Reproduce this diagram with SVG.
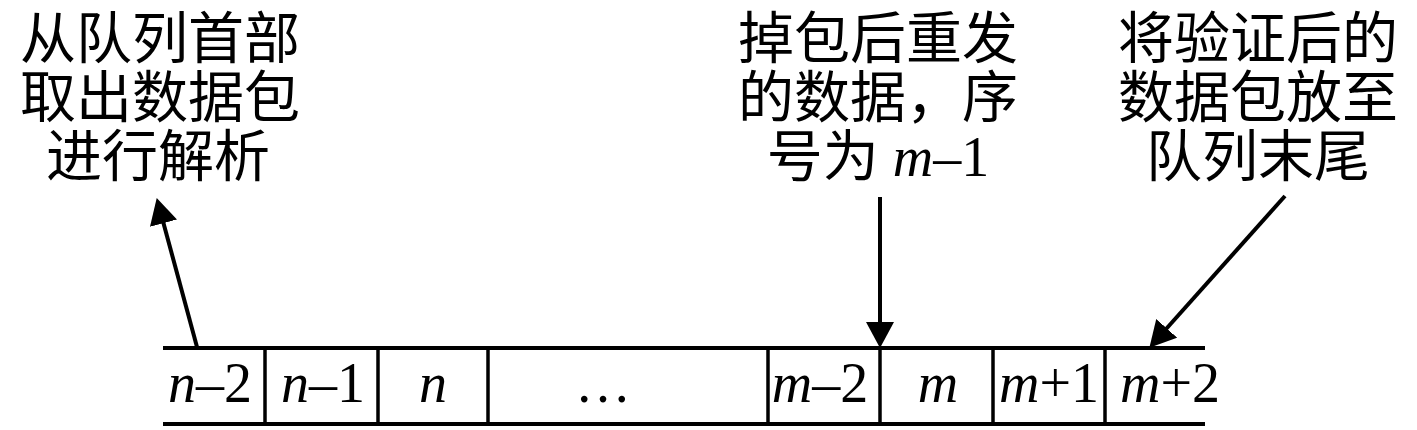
<svg xmlns="http://www.w3.org/2000/svg" width="1417" height="430" viewBox="0 0 1417 430">
<defs>
<style>
.cn{font-family:"Noto Sans CJK SC","Liberation Serif",serif;font-size:56px;fill:#000;text-anchor:middle}
.lat{font-family:"Liberation Serif","Times New Roman",serif;font-size:56px;fill:#000;text-anchor:middle}
.it{font-style:italic}
.ln{stroke:#000;stroke-width:4;fill:none;stroke-linecap:butt}
.dv{stroke:#000;stroke-width:3.5;fill:none}
.ar{stroke:#000;stroke-width:4;fill:none}
</style>
<marker id="ah" markerUnits="userSpaceOnUse" markerWidth="26" markerHeight="28" refX="15" refY="14" orient="auto" viewBox="0 0 26 28">
<path d="M0,0 L26,14 L0,28 z" fill="#000"/>
</marker>
</defs>
<rect width="1417" height="430" fill="#fff"/>

<g id="label-left">
<text class="cn" x="160" y="58">从队列首部</text>
<text class="cn" x="160" y="117">取出数据包</text>
<text class="cn" x="158" y="176">进行解析</text>
</g>
<g id="label-middle">
<text class="cn" x="878" y="58">掉包后重发</text>
<text class="cn" x="878" y="117">的数据，序</text>
<text class="cn" x="878" y="176">号为<tspan font-family="Liberation Serif, serif"> </tspan><tspan font-family="Liberation Serif, serif" font-style="italic">m</tspan><tspan font-family="Liberation Serif, serif">–1</tspan></text>
</g>
<g id="label-right">
<text class="cn" x="1258" y="58">将验证后的</text>
<text class="cn" x="1258" y="117">数据包放至</text>
<text class="cn" x="1258" y="176">队列末尾</text>
</g>

<g id="queue">
<line class="ln" x1="163" y1="348" x2="1205" y2="348"/>
<line class="ln" x1="163" y1="424" x2="1205" y2="424"/>
<line class="dv" x1="265" y1="348" x2="265" y2="424"/>
<line class="dv" x1="378" y1="348" x2="378" y2="424"/>
<line class="dv" x1="488" y1="348" x2="488" y2="424"/>
<line class="dv" x1="768" y1="348" x2="768" y2="424"/>
<line class="dv" x1="880" y1="348" x2="880" y2="424"/>
<line class="dv" x1="993" y1="348" x2="993" y2="424"/>
<line class="dv" x1="1105" y1="348" x2="1105" y2="424"/>
</g>
<g id="cell-n-2"><text class="lat" x="210" y="402"><tspan class="it">n</tspan>–2</text></g>
<g id="cell-n-1"><text class="lat" x="323" y="402"><tspan class="it">n</tspan>–1</text></g>
<g id="cell-n"><text class="lat it" x="433" y="402">n</text></g>
<g id="cell-dots"><text class="lat" x="603" y="402">…</text></g>
<g id="cell-m-2"><text class="lat" x="820" y="402"><tspan class="it">m</tspan>–2</text></g>
<g id="cell-m"><text class="lat it" x="938" y="402">m</text></g>
<g id="cell-m+1"><text class="lat" x="1049" y="402"><tspan class="it">m</tspan>+1</text></g>
<g id="cell-m+2"><text class="lat" x="1170" y="402"><tspan class="it">m</tspan>+2</text></g>

<g id="connectors">
<line class="ar" x1="197" y1="347" x2="159.6" y2="208.7" marker-end="url(#ah)"/>
<line class="ar" x1="880" y1="197" x2="880" y2="337" marker-end="url(#ah)"/>
<line class="ar" x1="1285" y1="196" x2="1156.7" y2="339.5" marker-end="url(#ah)"/>
</g>
</svg>
